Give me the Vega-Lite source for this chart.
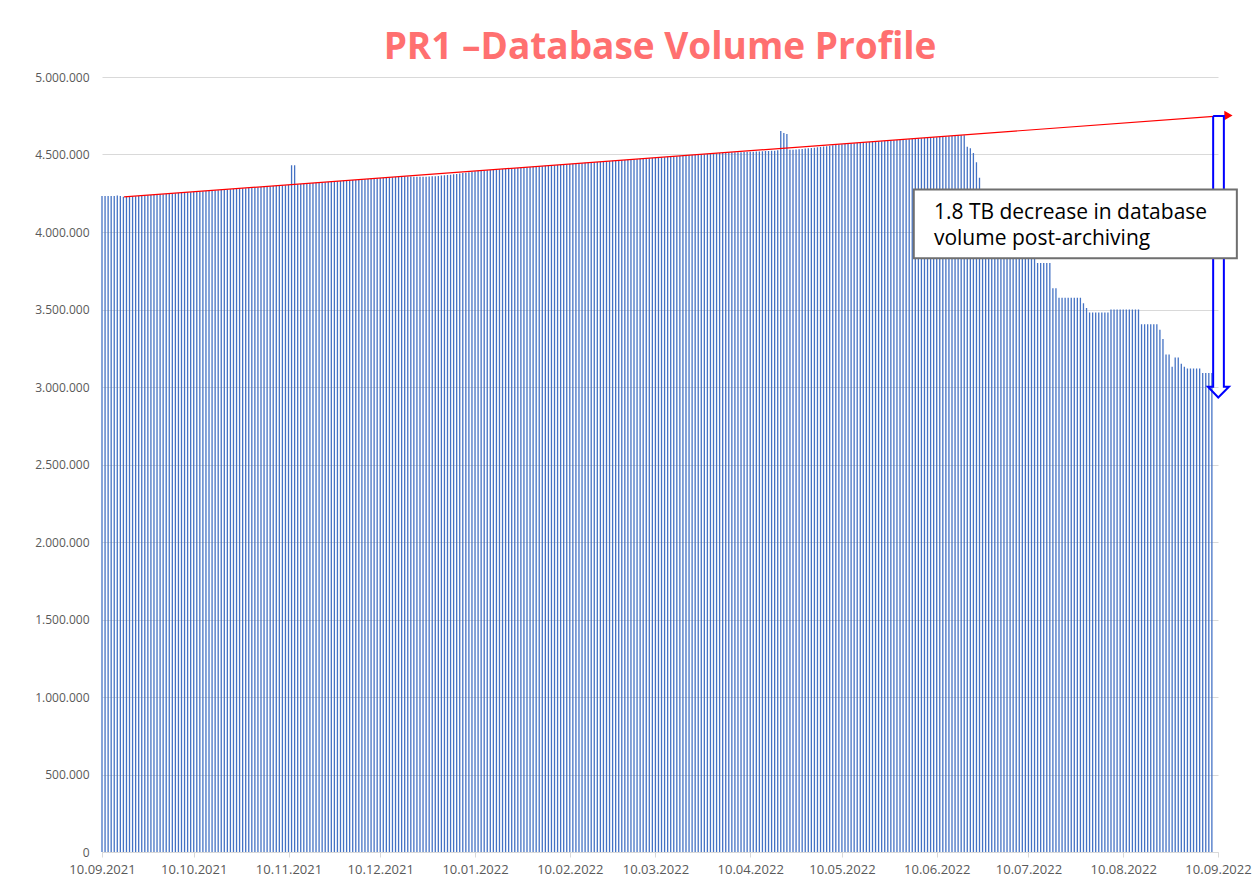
{
"$schema": "https://vega.github.io/schema/vega-lite/v6.json",
"width": 1116, "height": 775,
"autosize": {"type": "none"},
"padding": {"left": 102, "top": 77, "right": 37, "bottom": 40},
"background": "white",
"title": {"text": "PR1 –Database Volume Profile", "color": "#FF7070", "fontSize": 37, "font": "Open Sans", "fontWeight": "bold", "anchor": "middle", "baseline": "alphabetic", "offset": 10, "dy": 35},
"config": {"view": {"stroke": null}, "locale": {"number": {"decimal": ",", "thousands": ".", "grouping": [3], "currency": ["", " €"]}}},
"datasets": {
"vol": [
{"date":"2021-09-10","volume":4232000},{"date":"2021-09-11","volume":4232000},{"date":"2021-09-12","volume":4232000},{"date":"2021-09-13","volume":4232000},{"date":"2021-09-14","volume":4232000},{"date":"2021-09-15","volume":4236000},{"date":"2021-09-16","volume":4232000},{"date":"2021-09-17","volume":4228000},{"date":"2021-09-18","volume":4227000},{"date":"2021-09-19","volume":4228000},{"date":"2021-09-20","volume":4230000},{"date":"2021-09-21","volume":4231000},{"date":"2021-09-22","volume":4233000},{"date":"2021-09-23","volume":4234000},{"date":"2021-09-24","volume":4236000},{"date":"2021-09-25","volume":4237000},{"date":"2021-09-26","volume":4238000},{"date":"2021-09-27","volume":4240000},{"date":"2021-09-28","volume":4241000},{"date":"2021-09-29","volume":4243000},{"date":"2021-09-30","volume":4244000},
{"date":"2021-10-01","volume":4245000},{"date":"2021-10-02","volume":4247000},{"date":"2021-10-03","volume":4248000},{"date":"2021-10-04","volume":4250000},{"date":"2021-10-05","volume":4251000},{"date":"2021-10-06","volume":4253000},{"date":"2021-10-07","volume":4254000},{"date":"2021-10-08","volume":4256000},{"date":"2021-10-09","volume":4257000},{"date":"2021-10-10","volume":4259000},{"date":"2021-10-11","volume":4260000},{"date":"2021-10-12","volume":4262000},{"date":"2021-10-13","volume":4263000},{"date":"2021-10-14","volume":4265000},{"date":"2021-10-15","volume":4266000},{"date":"2021-10-16","volume":4267000},{"date":"2021-10-17","volume":4269000},{"date":"2021-10-18","volume":4270000},{"date":"2021-10-19","volume":4272000},{"date":"2021-10-20","volume":4273000},{"date":"2021-10-21","volume":4275000},{"date":"2021-10-22","volume":4276000},{"date":"2021-10-23","volume":4278000},{"date":"2021-10-24","volume":4279000},{"date":"2021-10-25","volume":4281000},{"date":"2021-10-26","volume":4282000},{"date":"2021-10-27","volume":4283000},{"date":"2021-10-28","volume":4285000},{"date":"2021-10-29","volume":4286000},{"date":"2021-10-30","volume":4288000},{"date":"2021-10-31","volume":4289000},
{"date":"2021-11-01","volume":4291000},{"date":"2021-11-02","volume":4292000},{"date":"2021-11-03","volume":4294000},{"date":"2021-11-04","volume":4295000},{"date":"2021-11-05","volume":4297000},{"date":"2021-11-06","volume":4298000},{"date":"2021-11-07","volume":4300000},{"date":"2021-11-08","volume":4301000},{"date":"2021-11-09","volume":4302000},{"date":"2021-11-10","volume":4304000},{"date":"2021-11-11","volume":4430000},{"date":"2021-11-12","volume":4430000},{"date":"2021-11-13","volume":4308000},{"date":"2021-11-14","volume":4310000},{"date":"2021-11-15","volume":4311000},{"date":"2021-11-16","volume":4313000},{"date":"2021-11-17","volume":4314000},{"date":"2021-11-18","volume":4316000},{"date":"2021-11-19","volume":4317000},{"date":"2021-11-20","volume":4318000},{"date":"2021-11-21","volume":4320000},{"date":"2021-11-22","volume":4321000},{"date":"2021-11-23","volume":4323000},{"date":"2021-11-24","volume":4324000},{"date":"2021-11-25","volume":4326000},{"date":"2021-11-26","volume":4327000},{"date":"2021-11-27","volume":4329000},{"date":"2021-11-28","volume":4330000},{"date":"2021-11-29","volume":4332000},{"date":"2021-11-30","volume":4333000},
{"date":"2021-12-01","volume":4335000},{"date":"2021-12-02","volume":4336000},{"date":"2021-12-03","volume":4338000},{"date":"2021-12-04","volume":4339000},{"date":"2021-12-05","volume":4340000},{"date":"2021-12-06","volume":4342000},{"date":"2021-12-07","volume":4343000},{"date":"2021-12-08","volume":4345000},{"date":"2021-12-09","volume":4346000},{"date":"2021-12-10","volume":4348000},{"date":"2021-12-11","volume":4349000},{"date":"2021-12-12","volume":4351000},{"date":"2021-12-13","volume":4352000},{"date":"2021-12-14","volume":4354000},{"date":"2021-12-15","volume":4355000},{"date":"2021-12-16","volume":4356000},{"date":"2021-12-17","volume":4358000},{"date":"2021-12-18","volume":4359000},{"date":"2021-12-19","volume":4358000},{"date":"2021-12-20","volume":4358000},{"date":"2021-12-21","volume":4356000},{"date":"2021-12-22","volume":4357000},{"date":"2021-12-23","volume":4356000},{"date":"2021-12-24","volume":4356000},{"date":"2021-12-25","volume":4357000},{"date":"2021-12-26","volume":4358000},{"date":"2021-12-27","volume":4359000},{"date":"2021-12-28","volume":4360000},{"date":"2021-12-29","volume":4362000},{"date":"2021-12-30","volume":4364000},{"date":"2021-12-31","volume":4366000},
{"date":"2022-01-01","volume":4368000},{"date":"2022-01-02","volume":4370000},{"date":"2022-01-03","volume":4372000},{"date":"2022-01-04","volume":4374000},{"date":"2022-01-05","volume":4377000},{"date":"2022-01-06","volume":4380000},{"date":"2022-01-07","volume":4383000},{"date":"2022-01-08","volume":4386000},{"date":"2022-01-09","volume":4389000},{"date":"2022-01-10","volume":4392000},{"date":"2022-01-11","volume":4394000},{"date":"2022-01-12","volume":4396000},{"date":"2022-01-13","volume":4397000},{"date":"2022-01-14","volume":4399000},{"date":"2022-01-15","volume":4400000},{"date":"2022-01-16","volume":4402000},{"date":"2022-01-17","volume":4403000},{"date":"2022-01-18","volume":4405000},{"date":"2022-01-19","volume":4406000},{"date":"2022-01-20","volume":4408000},{"date":"2022-01-21","volume":4409000},{"date":"2022-01-22","volume":4411000},{"date":"2022-01-23","volume":4412000},{"date":"2022-01-24","volume":4413000},{"date":"2022-01-25","volume":4415000},{"date":"2022-01-26","volume":4416000},{"date":"2022-01-27","volume":4418000},{"date":"2022-01-28","volume":4419000},{"date":"2022-01-29","volume":4421000},{"date":"2022-01-30","volume":4422000},{"date":"2022-01-31","volume":4424000},
{"date":"2022-02-01","volume":4425000},{"date":"2022-02-02","volume":4427000},{"date":"2022-02-03","volume":4428000},{"date":"2022-02-04","volume":4430000},{"date":"2022-02-05","volume":4431000},{"date":"2022-02-06","volume":4432000},{"date":"2022-02-07","volume":4434000},{"date":"2022-02-08","volume":4435000},{"date":"2022-02-09","volume":4437000},{"date":"2022-02-10","volume":4438000},{"date":"2022-02-11","volume":4440000},{"date":"2022-02-12","volume":4441000},{"date":"2022-02-13","volume":4443000},{"date":"2022-02-14","volume":4444000},{"date":"2022-02-15","volume":4446000},{"date":"2022-02-16","volume":4447000},{"date":"2022-02-17","volume":4448000},{"date":"2022-02-18","volume":4450000},{"date":"2022-02-19","volume":4451000},{"date":"2022-02-20","volume":4453000},{"date":"2022-02-21","volume":4454000},{"date":"2022-02-22","volume":4456000},{"date":"2022-02-23","volume":4457000},{"date":"2022-02-24","volume":4459000},{"date":"2022-02-25","volume":4460000},{"date":"2022-02-26","volume":4462000},{"date":"2022-02-27","volume":4463000},{"date":"2022-02-28","volume":4464000},
{"date":"2022-03-01","volume":4466000},{"date":"2022-03-02","volume":4467000},{"date":"2022-03-03","volume":4469000},{"date":"2022-03-04","volume":4470000},{"date":"2022-03-05","volume":4472000},{"date":"2022-03-06","volume":4473000},{"date":"2022-03-07","volume":4475000},{"date":"2022-03-08","volume":4476000},{"date":"2022-03-09","volume":4478000},{"date":"2022-03-10","volume":4479000},{"date":"2022-03-11","volume":4480000},{"date":"2022-03-12","volume":4482000},{"date":"2022-03-13","volume":4483000},{"date":"2022-03-14","volume":4485000},{"date":"2022-03-15","volume":4486000},{"date":"2022-03-16","volume":4488000},{"date":"2022-03-17","volume":4489000},{"date":"2022-03-18","volume":4491000},{"date":"2022-03-19","volume":4492000},{"date":"2022-03-20","volume":4494000},{"date":"2022-03-21","volume":4495000},{"date":"2022-03-22","volume":4496000},{"date":"2022-03-23","volume":4498000},{"date":"2022-03-24","volume":4499000},{"date":"2022-03-25","volume":4501000},{"date":"2022-03-26","volume":4502000},{"date":"2022-03-27","volume":4504000},{"date":"2022-03-28","volume":4505000},{"date":"2022-03-29","volume":4507000},{"date":"2022-03-30","volume":4508000},{"date":"2022-03-31","volume":4509000},
{"date":"2022-04-01","volume":4511000},{"date":"2022-04-02","volume":4512000},{"date":"2022-04-03","volume":4514000},{"date":"2022-04-04","volume":4514000},{"date":"2022-04-05","volume":4514000},{"date":"2022-04-06","volume":4515000},{"date":"2022-04-07","volume":4515000},{"date":"2022-04-08","volume":4516000},{"date":"2022-04-09","volume":4517000},{"date":"2022-04-10","volume":4517000},{"date":"2022-04-11","volume":4518000},{"date":"2022-04-12","volume":4519000},{"date":"2022-04-13","volume":4520000},{"date":"2022-04-14","volume":4521000},{"date":"2022-04-15","volume":4522000},{"date":"2022-04-16","volume":4523000},{"date":"2022-04-17","volume":4524000},{"date":"2022-04-18","volume":4525000},{"date":"2022-04-19","volume":4527000},{"date":"2022-04-20","volume":4652000},{"date":"2022-04-21","volume":4639000},{"date":"2022-04-22","volume":4632000},{"date":"2022-04-23","volume":4530000},{"date":"2022-04-24","volume":4531000},{"date":"2022-04-25","volume":4532000},{"date":"2022-04-26","volume":4534000},{"date":"2022-04-27","volume":4536000},{"date":"2022-04-28","volume":4538000},{"date":"2022-04-29","volume":4540000},{"date":"2022-04-30","volume":4542000},
{"date":"2022-05-01","volume":4544000},{"date":"2022-05-02","volume":4546000},{"date":"2022-05-03","volume":4548000},{"date":"2022-05-04","volume":4551000},{"date":"2022-05-05","volume":4554000},{"date":"2022-05-06","volume":4557000},{"date":"2022-05-07","volume":4560000},{"date":"2022-05-08","volume":4562000},{"date":"2022-05-09","volume":4564000},{"date":"2022-05-10","volume":4566000},{"date":"2022-05-11","volume":4568000},{"date":"2022-05-12","volume":4569000},{"date":"2022-05-13","volume":4571000},{"date":"2022-05-14","volume":4572000},{"date":"2022-05-15","volume":4574000},{"date":"2022-05-16","volume":4575000},{"date":"2022-05-17","volume":4577000},{"date":"2022-05-18","volume":4578000},{"date":"2022-05-19","volume":4580000},{"date":"2022-05-20","volume":4581000},{"date":"2022-05-21","volume":4583000},{"date":"2022-05-22","volume":4584000},{"date":"2022-05-23","volume":4586000},{"date":"2022-05-24","volume":4587000},{"date":"2022-05-25","volume":4589000},{"date":"2022-05-26","volume":4590000},{"date":"2022-05-27","volume":4592000},{"date":"2022-05-28","volume":4593000},{"date":"2022-05-29","volume":4594000},{"date":"2022-05-30","volume":4596000},{"date":"2022-05-31","volume":4597000},
{"date":"2022-06-01","volume":4599000},{"date":"2022-06-02","volume":4600000},{"date":"2022-06-03","volume":4602000},{"date":"2022-06-04","volume":4603000},{"date":"2022-06-05","volume":4605000},{"date":"2022-06-06","volume":4606000},{"date":"2022-06-07","volume":4608000},{"date":"2022-06-08","volume":4609000},{"date":"2022-06-09","volume":4611000},{"date":"2022-06-10","volume":4612000},{"date":"2022-06-11","volume":4613000},{"date":"2022-06-12","volume":4615000},{"date":"2022-06-13","volume":4616000},{"date":"2022-06-14","volume":4618000},{"date":"2022-06-15","volume":4619000},{"date":"2022-06-16","volume":4621000},{"date":"2022-06-17","volume":4622000},{"date":"2022-06-18","volume":4624000},{"date":"2022-06-19","volume":4625000},{"date":"2022-06-20","volume":4550000},{"date":"2022-06-21","volume":4540000},{"date":"2022-06-22","volume":4510000},{"date":"2022-06-23","volume":4450000},{"date":"2022-06-24","volume":4350000},{"date":"2022-06-25","volume":4150000},{"date":"2022-06-26","volume":4000000},{"date":"2022-06-27","volume":3920000},{"date":"2022-06-28","volume":3880000},{"date":"2022-06-29","volume":3880000},{"date":"2022-06-30","volume":3875000},
{"date":"2022-07-01","volume":3875000},{"date":"2022-07-02","volume":3870000},{"date":"2022-07-03","volume":3870000},{"date":"2022-07-04","volume":3865000},{"date":"2022-07-05","volume":3865000},{"date":"2022-07-06","volume":3860000},{"date":"2022-07-07","volume":3860000},{"date":"2022-07-08","volume":3855000},{"date":"2022-07-09","volume":3850000},{"date":"2022-07-10","volume":3850000},{"date":"2022-07-11","volume":3845000},{"date":"2022-07-12","volume":3845000},{"date":"2022-07-13","volume":3800000},{"date":"2022-07-14","volume":3800000},{"date":"2022-07-15","volume":3800000},{"date":"2022-07-16","volume":3800000},{"date":"2022-07-17","volume":3800000},{"date":"2022-07-18","volume":3637000},{"date":"2022-07-19","volume":3637000},{"date":"2022-07-20","volume":3576000},{"date":"2022-07-21","volume":3576000},{"date":"2022-07-22","volume":3576000},{"date":"2022-07-23","volume":3576000},{"date":"2022-07-24","volume":3576000},{"date":"2022-07-25","volume":3576000},{"date":"2022-07-26","volume":3576000},{"date":"2022-07-27","volume":3576000},{"date":"2022-07-28","volume":3540000},{"date":"2022-07-29","volume":3510000},{"date":"2022-07-30","volume":3480000},{"date":"2022-07-31","volume":3480000},
{"date":"2022-08-01","volume":3480000},{"date":"2022-08-02","volume":3480000},{"date":"2022-08-03","volume":3480000},{"date":"2022-08-04","volume":3480000},{"date":"2022-08-05","volume":3480000},{"date":"2022-08-06","volume":3500000},{"date":"2022-08-07","volume":3500000},{"date":"2022-08-08","volume":3500000},{"date":"2022-08-09","volume":3500000},{"date":"2022-08-10","volume":3500000},{"date":"2022-08-11","volume":3500000},{"date":"2022-08-12","volume":3500000},{"date":"2022-08-13","volume":3500000},{"date":"2022-08-14","volume":3500000},{"date":"2022-08-15","volume":3500000},{"date":"2022-08-16","volume":3405000},{"date":"2022-08-17","volume":3405000},{"date":"2022-08-18","volume":3405000},{"date":"2022-08-19","volume":3405000},{"date":"2022-08-20","volume":3405000},{"date":"2022-08-21","volume":3405000},{"date":"2022-08-22","volume":3370000},{"date":"2022-08-23","volume":3310000},{"date":"2022-08-24","volume":3210000},{"date":"2022-08-25","volume":3210000},{"date":"2022-08-26","volume":3130000},{"date":"2022-08-27","volume":3190000},{"date":"2022-08-28","volume":3190000},{"date":"2022-08-29","volume":3150000},{"date":"2022-08-30","volume":3130000},{"date":"2022-08-31","volume":3120000},
{"date":"2022-09-01","volume":3120000},{"date":"2022-09-02","volume":3120000},{"date":"2022-09-03","volume":3120000},{"date":"2022-09-04","volume":3120000},{"date":"2022-09-05","volume":3090000},{"date":"2022-09-06","volume":3090000},{"date":"2022-09-07","volume":3090000},{"date":"2022-09-08","volume":3090000}
],
"trend": [{"date":"2021-09-17T05:00:00Z","volume":4226000},{"date":"2022-09-11T22:00:00Z","volume":4750800}],
"trendhead": [{"date":"2022-09-13T10:00:00Z","volume":4751500}],
"arrow": [
{"o":0,"date":"2022-09-08T10:00:00Z","volume":4748000},
{"o":1,"date":"2022-09-08T10:00:00Z","volume":3002000},
{"o":2,"date":"2022-09-06T17:00:00Z","volume":3002000},
{"o":3,"date":"2022-09-10T02:00:00Z","volume":2932000},
{"o":4,"date":"2022-09-13T14:00:00Z","volume":3002000},
{"o":5,"date":"2022-09-11T22:00:00Z","volume":3002000},
{"o":6,"date":"2022-09-11T22:00:00Z","volume":4748000},
{"o":7,"date":"2022-09-08T10:00:00Z","volume":4748000}
],
"box": [{"date":"2022-06-02T12:00:00Z","date2":"2022-09-16T04:00:00Z","volume":4275000,"volume2":3830000}],
"notes": [
{"date":"2022-06-09T02:00:00Z","volume":4082000,"label":"1.8 TB decrease in database"},
{"date":"2022-06-09T02:00:00Z","volume":3916000,"label":"volume post-archiving"}
]
},
"encoding": {
"x": {"field": "date", "type": "temporal", "title": null,
  "scale": {"type": "utc", "nice": false, "padding": 0, "domain": [{"year":2021,"month":9,"date":10,"utc":true},{"year":2022,"month":9,"date":10,"utc":true}]},
  "axis": {"values": [
    {"year":2021,"month":9,"date":10,"utc":true},{"year":2021,"month":10,"date":10,"utc":true},{"year":2021,"month":11,"date":10,"utc":true},{"year":2021,"month":12,"date":10,"utc":true},
    {"year":2022,"month":1,"date":10,"utc":true},{"year":2022,"month":2,"date":10,"utc":true},{"year":2022,"month":3,"date":10,"utc":true},{"year":2022,"month":4,"date":10,"utc":true},
    {"year":2022,"month":5,"date":10,"utc":true},{"year":2022,"month":6,"date":10,"utc":true},{"year":2022,"month":7,"date":10,"utc":true},{"year":2022,"month":8,"date":10,"utc":true},
    {"year":2022,"month":9,"date":10,"utc":true}],
    "format": "%d.%m.%Y", "grid": false, "domainColor": "#D9D9D9", "tickColor": "#D9D9D9", "tickSize": 5,
    "labelFont": "Open Sans", "labelFontSize": 13, "labelColor": "#595959", "labelPadding": 6, "labelOverlap": false, "labelFlush": false}},
"y": {"field": "volume", "type": "quantitative", "title": null,
  "scale": {"domain": [0, 5000000], "nice": false},
  "axis": {"values": [0,500000,1000000,1500000,2000000,2500000,3000000,3500000,4000000,4500000,5000000],
    "format": ",d", "grid": true, "gridColor": "#D9D9D9", "domain": false, "ticks": false,
    "labelFont": "Open Sans", "labelFontSize": 12, "labelColor": "#595959", "labelPadding": 13}}
},
"layer": [
{"data": {"name": "vol"}, "mark": {"type": "bar", "size": 1.3, "color": "#4472C4"}},
{"data": {"name": "trend"}, "mark": {"type": "line", "color": "#FF0000", "strokeWidth": 1.2}},
{"data": {"name": "trendhead"}, "mark": {"type": "point", "shape": "triangle-right", "filled": true, "size": 90, "color": "#FF0000", "opacity": 1}},
{"data": {"name": "arrow"}, "mark": {"type": "line", "color": "#0000FF", "strokeWidth": 2, "strokeJoin": "miter"}, "encoding": {"order": {"field": "o", "type": "quantitative"}}},
{"data": {"name": "box"}, "mark": {"type": "rect", "fill": "white", "stroke": "#6F6F6F", "strokeWidth": 2}, "encoding": {"x2": {"field": "date2"}, "y2": {"field": "volume2"}}},
{"data": {"name": "notes"}, "mark": {"type": "text", "align": "left", "baseline": "alphabetic", "font": "Open Sans", "fontSize": 21, "color": "#000000"}, "encoding": {"text": {"field": "label"}}}
]
}
